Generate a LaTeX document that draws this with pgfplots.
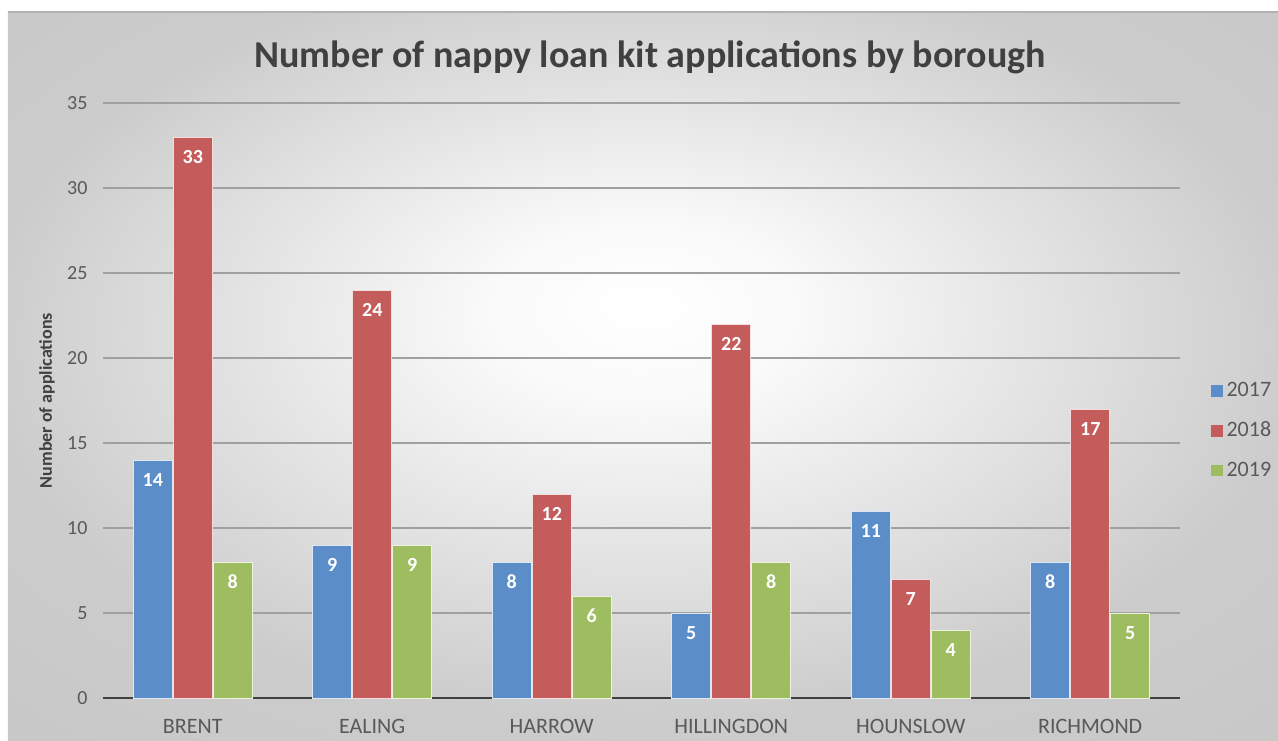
\documentclass[border=0pt]{standalone}
\usepackage{fontspec}
\setmainfont{Carlito}
\usepackage{pgfplots}
\pgfplotsset{compat=1.18}
\definecolor{c17}{RGB}{91,141,201}
\definecolor{c18}{RGB}{197,92,92}
\definecolor{c19}{RGB}{158,189,96}
\definecolor{txt}{RGB}{89,89,89}
\definecolor{ttl}{RGB}{64,64,64}
\definecolor{gridc}{RGB}{160,160,160}
\definecolor{axln}{RGB}{64,64,64}
\pgfdeclareradialshading{chartbg}{\pgfpoint{0bp}{5bp}}{%
  color(0bp)=(white); color(6bp)=(white!98!black); color(26bp)=(black!20);
  color(50bp)=(black!24)}
\begin{document}
\begin{tikzpicture}
% chart area background
\shade[shading=chartbg] (-47.5pt,-21pt) rectangle (587.5pt,343pt);
\draw[black!30, line width=0.8pt] (-47.5pt,343pt) -- (587.5pt,343pt);
\begin{axis}[
  at={(0pt,0pt)}, anchor=south west,
  scale only axis, width=538.5pt, height=297.5pt,
  ybar=0.5pt, bar width=19.5pt,
  ymin=0, ymax=35, ytick={0,5,...,35},
  xmin=-0.5, xmax=5.5, enlargelimits=false,
  xtick={0,...,5},
  xticklabels={BRENT,EALING,HARROW,HILLINGDON,HOUNSLOW,RICHMOND},
  minor xtick={-0.5,0.5,...,5.5},
  axis lines*=left,
  y axis line style={draw=none},
  x axis line style={axln, line width=1pt},
  xtick style={draw=none}, ytick style={draw=none},
  minor tick style={axln, line width=0.8pt},
  minor tick length=3pt, tick align=outside,
  ymajorgrids, grid style={gridc, line width=0.6pt},
  tick label style={font=\fontsize{10}{12}\selectfont, text=txt},
  xticklabel style={font=\fontsize{11}{13}\selectfont, yshift=-3pt},
  /pgf/number format/assume math mode=true,
  ylabel={Number of applications},
  ylabel style={font=\bfseries\fontsize{9}{11}\selectfont, text=ttl,
    at={(axis description cs:-0.052,0.5)}, anchor=center},
  title={Number of nappy loan kit applications by borough},
  title style={font=\bfseries\fontsize{19}{23}\selectfont, text=ttl,
    at={(axis description cs:0.508,1.056)}, anchor=center},
  legend style={draw=none, fill=none, at={(axis description cs:1.023,0.449)},
    anchor=west, font=\fontsize{11}{13}\selectfont, text=txt, row sep=7pt},
  legend cell align=left,
  nodes near coords, nodes near coords align={below},
  every node near coord/.append style={font=\bfseries\fontsize{10}{12}\selectfont,
    text=white, yshift=-3pt},
]
\addplot[fill=c17, draw=white!80!c17, line width=0.5pt,
  legend image code/.code={\fill[c17] (0pt,-2.6pt) rectangle (5.2pt,2.6pt);}]
  coordinates {(0,14)(1,9)(2,8)(3,5)(4,11)(5,8)};
\addplot[fill=c18, draw=white!80!c18, line width=0.5pt,
  legend image code/.code={\fill[c18] (0pt,-2.6pt) rectangle (5.2pt,2.6pt);}]
  coordinates {(0,33)(1,24)(2,12)(3,22)(4,7)(5,17)};
\addplot[fill=c19, draw=white!80!c19, line width=0.5pt,
  legend image code/.code={\fill[c19] (0pt,-2.6pt) rectangle (5.2pt,2.6pt);}]
  coordinates {(0,8)(1,9)(2,6)(3,8)(4,4)(5,5)};
\legend{2017,2018,2019}
\end{axis}
\pgfresetboundingbox
\path (-51.5pt,-21pt) rectangle (587.5pt,349pt);
\end{tikzpicture}
\end{document}
